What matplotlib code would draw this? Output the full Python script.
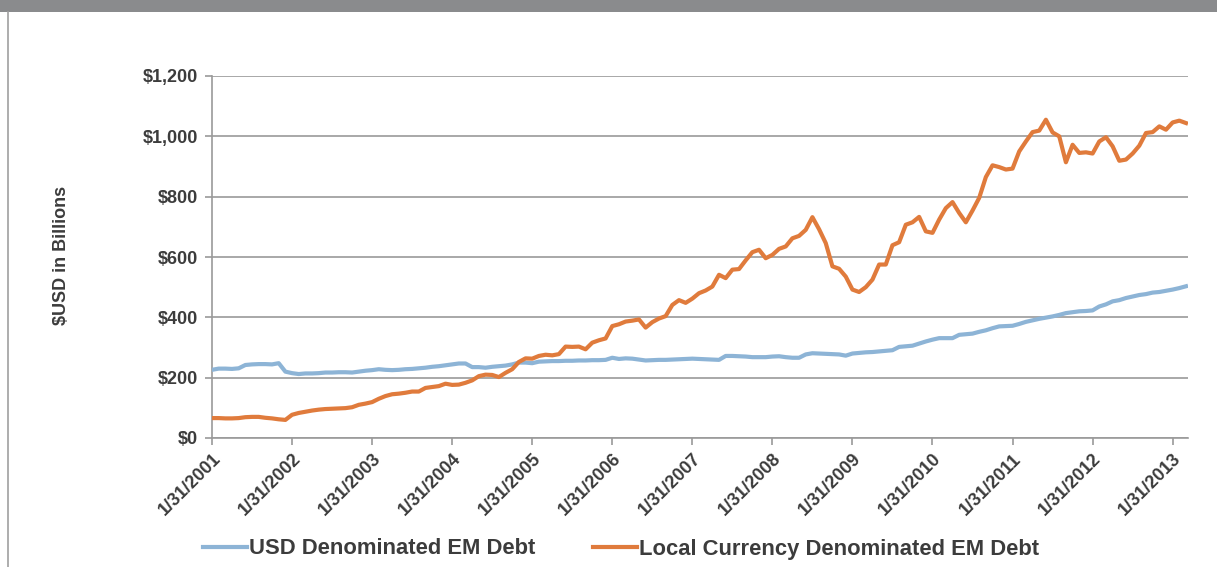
import matplotlib
matplotlib.use("Agg")
import matplotlib.pyplot as plt
from matplotlib.lines import Line2D
from matplotlib.patches import Rectangle
import numpy as np

# ---- data (monthly, Jan 2001 .. Mar 2013), $USD billions ----
years = list(range(2001, 2014))
tick_labels = [f"1/31/{y}" for y in years]

usd_debt = [
    226, 230, 230, 229, 231, 242, 244, 245, 245, 244, 248, 220,   # 2001
    215, 212, 214, 214, 215, 217, 217, 218, 218, 217, 220, 223,   # 2002
    225, 228, 226, 225, 226, 228, 229, 231, 233, 236, 238, 241,   # 2003
    244, 247, 247, 235, 235, 233, 236, 238, 240, 244, 250, 250,   # 2004
    248, 253, 254, 255, 255, 256, 256, 257, 257, 258, 258, 259,   # 2005
    266, 262, 264, 263, 260, 257, 258, 259, 259, 260, 261, 262,   # 2006
    263, 262, 261, 260, 259, 272, 272, 271, 270, 268, 268, 268,   # 2007
    270, 271, 268, 266, 266, 277, 281, 280, 279, 278, 277, 273,   # 2008
    280, 282, 284, 285, 287, 289, 291, 302, 304, 306, 313, 320,   # 2009
    326, 331, 331, 331, 342, 344, 346, 352, 357, 364, 370, 371,   # 2010
    372, 378, 385, 390, 395, 399, 403, 408, 414, 417, 420, 421,   # 2011
    423, 436, 443, 453, 457, 464, 469, 474, 477, 482, 484, 488,   # 2012
    492, 497, 503,                                                # 2013
]

local_debt = [
    66, 66, 65, 65, 66, 69, 70, 70, 67, 65, 62, 60,               # 2001
    77, 83, 87, 91, 94, 96, 97, 98, 99, 102, 110, 114,            # 2002
    119, 130, 139, 145, 147, 150, 154, 154, 166, 169, 172, 180,   # 2003
    176, 177, 183, 191, 205, 210, 209, 202, 216, 228, 252, 264,   # 2004
    263, 272, 276, 274, 278, 303, 302, 303, 294, 316, 324, 330,   # 2005
    371, 377, 386, 389, 393, 366, 384, 396, 404, 441, 457, 448,   # 2006
    462, 480, 489, 502, 541, 530, 558, 560, 589, 616, 624, 596,   # 2007
    607, 627, 635, 662, 670, 690, 732, 692, 646, 569, 561, 535,   # 2008
    492, 484, 500, 525, 575, 575, 639, 649, 707, 715, 733, 685,   # 2009
    680, 724, 762, 782, 746, 715, 754, 796, 865, 904, 898, 890,   # 2010
    893, 950, 983, 1014, 1019, 1055, 1013, 1000, 914, 972, 945, 947,  # 2011
    943, 983, 997, 967, 919, 923, 943, 969, 1011, 1014, 1033, 1022,   # 2012
    1046, 1052, 1044,                                             # 2013
]

series_names = ["USD Denominated EM Debt", "Local Currency Denominated EM Debt"]
y_ticks = [0, 200, 400, 600, 800, 1000, 1200]
y_tick_labels = ["$0", "$200", "$400", "$600", "$800", "$1,000", "$1,200"]

# ---- styling ----
plt.rcParams['font.family'] = ['Liberation Sans', 'DejaVu Sans']
TXT = "#3c3c3c"
GRID = "#9a9a9a"
BLUE = "#8db4d6"
ORANGE = "#e07b3c"

W, H = 1217, 567
fig = plt.figure(figsize=(W / 100, H / 100), dpi=100)
fig.patch.set_facecolor("white")

# top grey band and left frame line
fig.patches.append(Rectangle((0, 1 - 12 / H), 1, 12 / H, transform=fig.transFigure,
                             facecolor="#8a8b8d", edgecolor="none", zorder=0))
fig.lines.append(Line2D([8 / W, 8 / W], [0, 1 - 12 / H], transform=fig.transFigure,
                        color="#a0a0a0", lw=1.2))

ax = fig.add_axes([212 / W, 129 / H, (1188 - 212) / W, 362 / H])

x = np.arange(len(usd_debt))
ax.plot(x, usd_debt, color=BLUE, lw=3.0, solid_joinstyle="round",
        label=series_names[0], zorder=3)
ax.plot(np.arange(len(local_debt)), local_debt, color=ORANGE, lw=3.0,
        solid_joinstyle="round", label=series_names[1], zorder=4)

ax.set_xlim(0, 146.3)
ax.set_ylim(0, 1200)

ax.set_yticks(y_ticks)
ax.set_yticklabels(y_tick_labels)
ax.set_xticks([12 * i for i in range(len(years))])
ax.set_xticklabels(tick_labels, rotation=45, ha="right", rotation_mode="anchor")

for lab in ax.get_yticklabels():
    lab.set_fontsize(13)
    lab.set_fontweight("bold")
    lab.set_color(TXT)
for lab in ax.get_xticklabels():
    lab.set_fontsize(13)
    lab.set_fontweight("bold")
    lab.set_color(TXT)

ax.yaxis.grid(True, color=GRID, lw=1.2)
ax.set_axisbelow(True)
ax.tick_params(axis="y", length=5, width=1.2, color=GRID, pad=5)
ax.tick_params(axis="x", length=5, width=1.2, color=GRID, pad=4)

for s in ["top", "right"]:
    ax.spines[s].set_visible(False)
for s in ["left", "bottom"]:
    ax.spines[s].set_color(GRID)
    ax.spines[s].set_linewidth(1.2)

fig.text(62 / W, 1 - 255 / H, "$USD in Billions", rotation=90, ha="center",
         va="center", fontsize=13, fontweight="bold", color=TXT)

leg = fig.legend(loc="center", bbox_to_anchor=(621 / W, 1 - 549 / H), ncol=2,
                 frameon=False, handlelength=2.0, handletextpad=0.1,
                 columnspacing=2.6, prop={"size": 15.8, "weight": "bold"})
for t in leg.get_texts():
    t.set_color(TXT)

fig.savefig("out.png", dpi=100, facecolor="white")
